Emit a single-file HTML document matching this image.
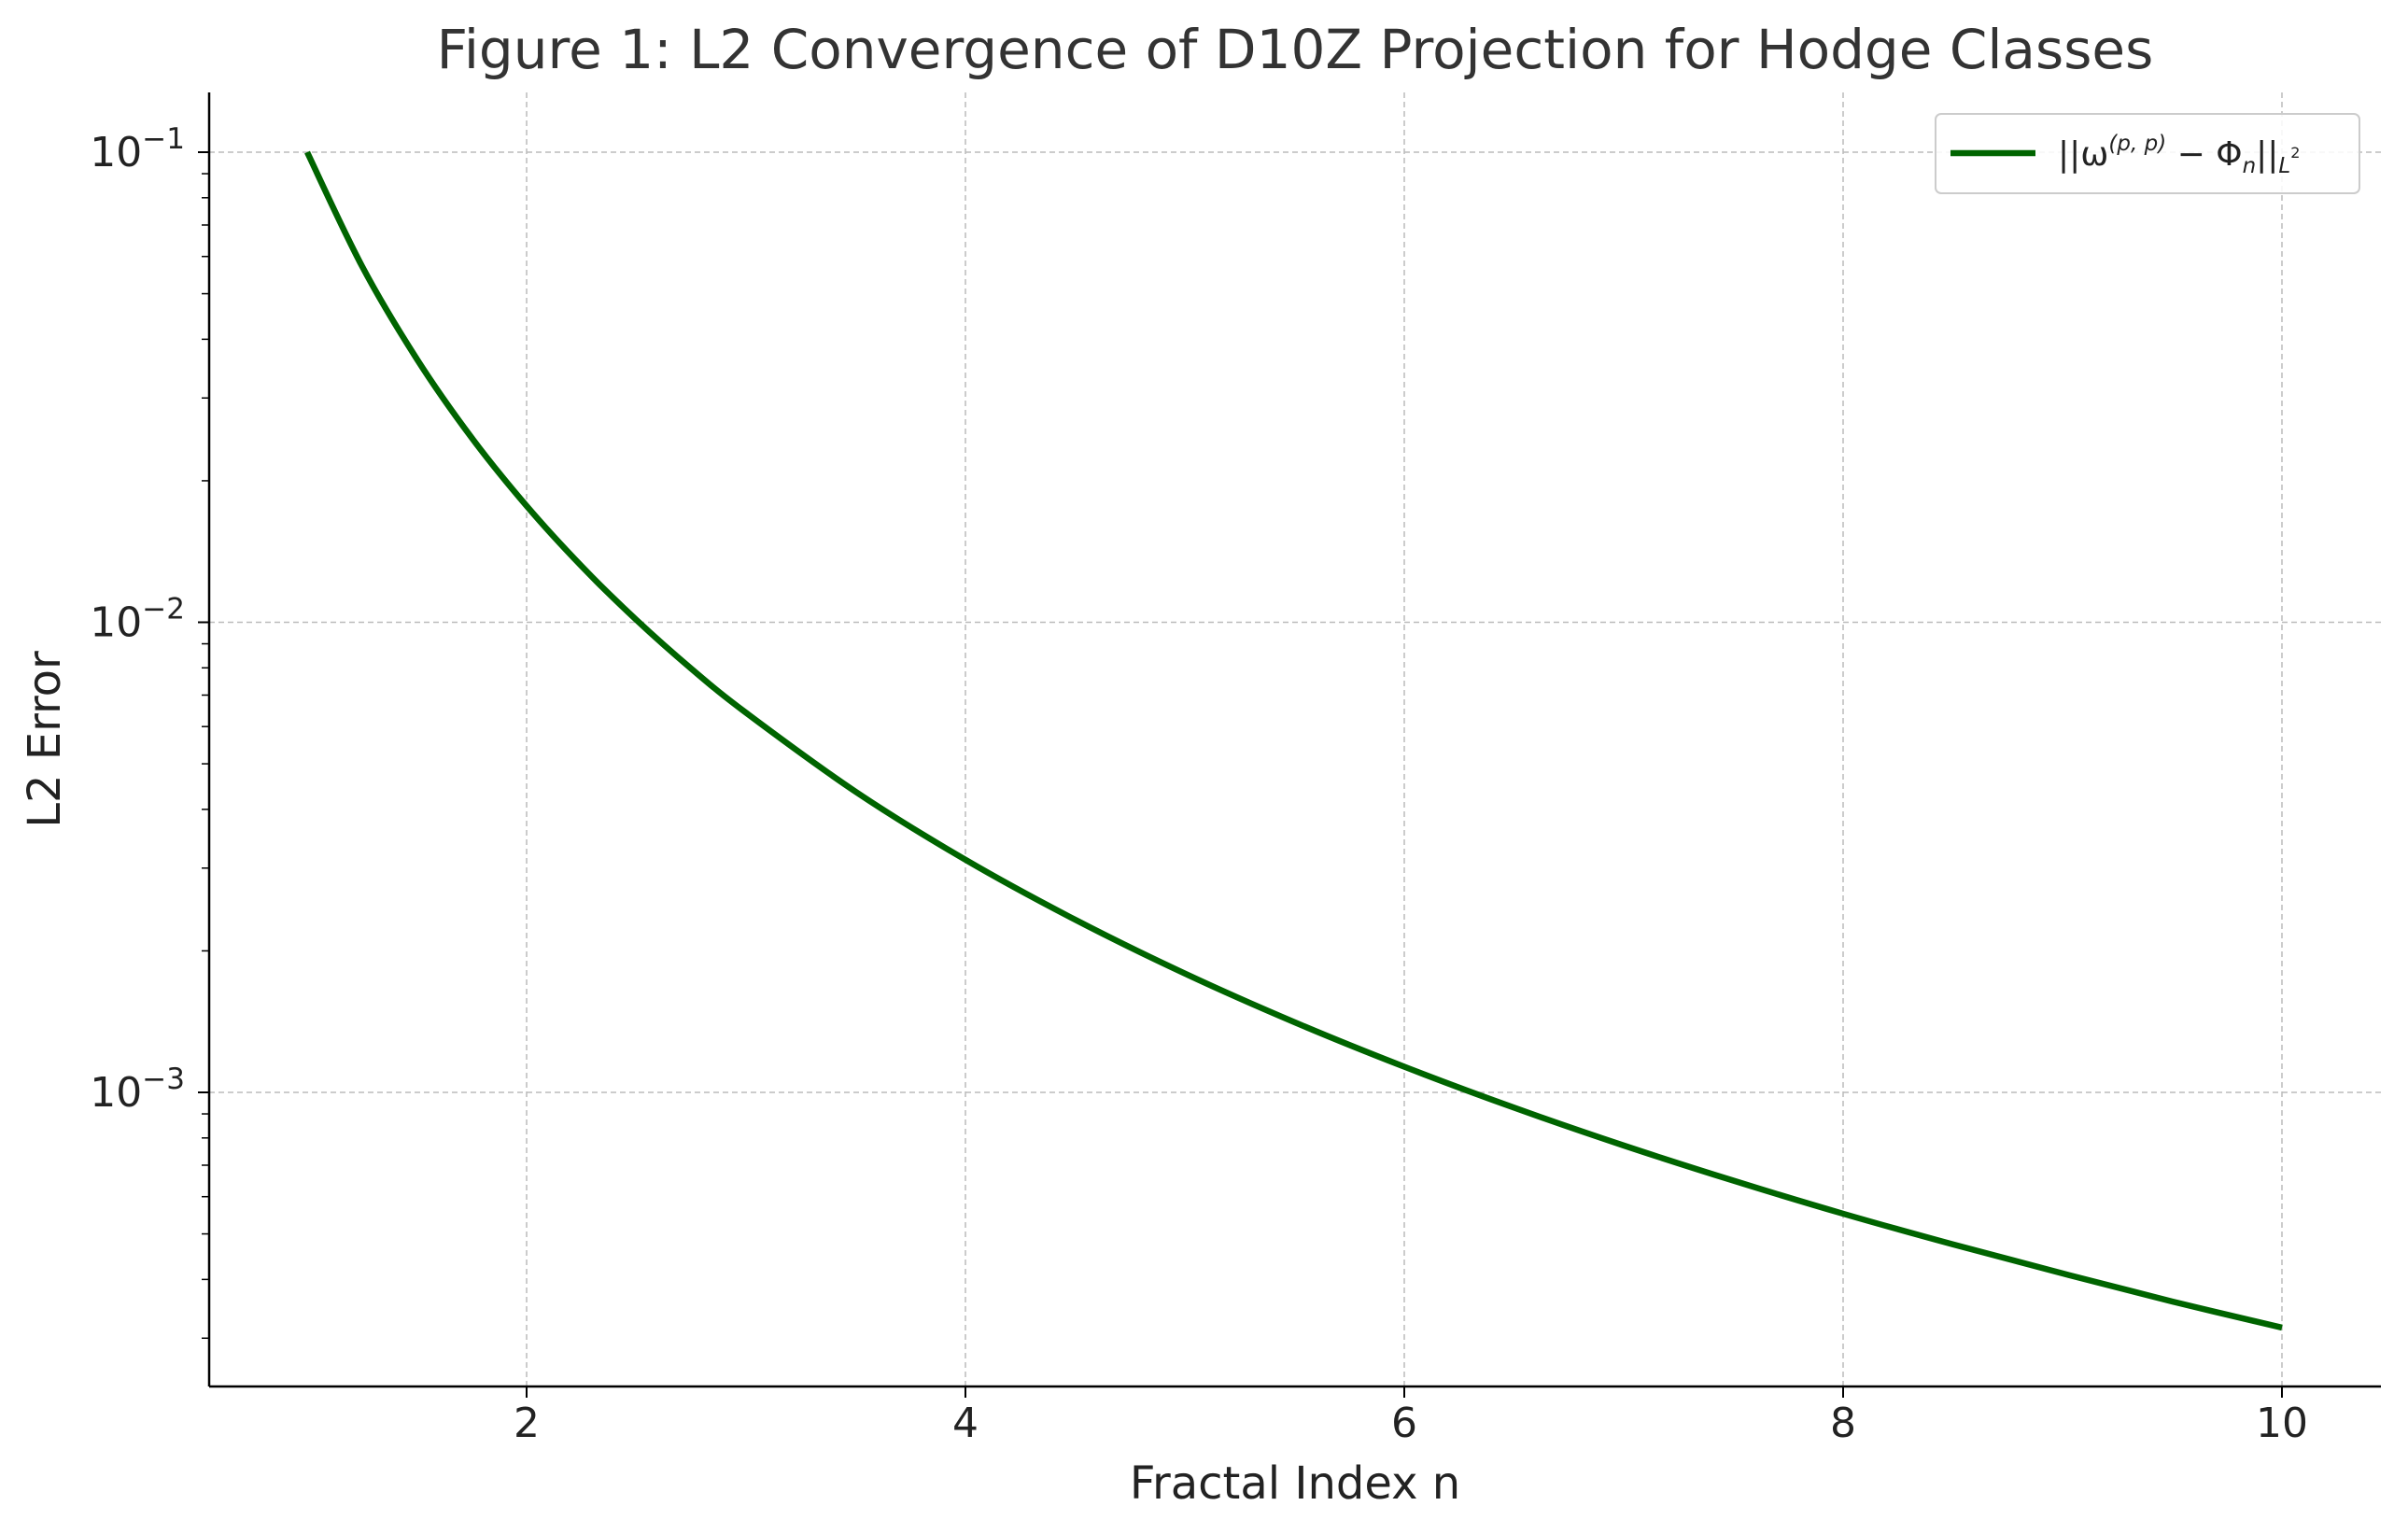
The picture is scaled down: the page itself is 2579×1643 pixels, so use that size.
<!DOCTYPE html>
<html><head><meta charset="utf-8"><style>
html,body{margin:0;padding:0;background:#fff}
svg{display:block;font-family:"DejaVu Sans","Liberation Sans",sans-serif}
</style></head><body>
<svg id="chart" width="2579" height="1643" viewBox="0 0 2579 1643" xmlns="http://www.w3.org/2000/svg">
<rect width="2579" height="1643" fill="#fff"/>
<g id="grid"></g>
<g id="ticks"></g>
<path id="series" fill="none" stroke="#006400" stroke-width="6.5" stroke-linejoin="round"/>
<line x1="224" y1="99" x2="224" y2="1485" stroke="#000" stroke-width="2.5"/>
<line x1="224" y1="1485" x2="2550" y2="1485" stroke="#000" stroke-width="2.5"/>
<text x="1387" y="73" font-size="58" fill="#333" text-anchor="middle">Figure 1: L2 Convergence of D10Z Projection for Hodge Classes</text>
<text x="1387" y="1605" font-size="48" fill="#222" text-anchor="middle">Fractal Index n</text>
<text transform="translate(64,792) rotate(-90)" font-size="48" fill="#222" text-anchor="middle">L2 Error</text>
<g>
<rect x="2073" y="122" width="454" height="85" rx="6" fill="#fff" fill-opacity="0.85" stroke="#ccc" stroke-width="2"/>
<line x1="2089" y1="164" x2="2180" y2="164" stroke="#006400" stroke-width="6.5"/>
<text x="2204" y="177" font-size="36" fill="#222">||ω<tspan dy="-16" font-size="23" font-style="italic">(p, p)</tspan><tspan dy="16"> − Φ</tspan><tspan dy="8" font-size="23" font-style="italic">n</tspan><tspan dy="-8">||</tspan><tspan dy="8" font-size="23" font-style="italic">L</tspan><tspan dy="-16" font-size="16">2</tspan></text>
</g>
</svg>
<script>
const nValues=[1,1.25,1.5,1.75,2,2.25,2.5,2.75,3,3.5,4,4.5,5,5.5,6,6.5,7,7.5,8,8.5,9,9.5,10];
const errValues=[0.1,0.0572,0.0363,0.02468,0.01768,0.01317,0.01012,0.00797,0.00642,0.00436,0.003125,0.00233,0.00179,0.00141,0.001134,0.000928,0.000771,0.000649,0.000552,0.000475,0.000412,0.000359,0.000316];
const xTicks=[2,4,6,8,10];
const yExps=[-1,-2,-3];
const NS="http://www.w3.org/2000/svg";
const xs=n=>329+(n-1)*235;
const ys=v=>163+(-1-Math.log10(v))*503.5;
const grid=document.getElementById('grid'),ticks=document.getElementById('ticks');
function mk(tag,attrs,parent){const e=document.createElementNS(NS,tag);for(const k in attrs)e.setAttribute(k,attrs[k]);parent.appendChild(e);return e;}
xTicks.forEach(t=>{
 const g=mk('line',{x1:xs(t),x2:xs(t),y1:99,y2:1485,stroke:'#bbb','stroke-width':1.5,'stroke-dasharray':'6,4'},grid);
 
 
 const tk=mk('line',{x1:xs(t),x2:xs(t),y1:1485,y2:1497,stroke:'#000','stroke-width':2},ticks);
 
 
 const tl=mk('text',{x:xs(t),y:1539,'font-size':44,fill:'#222','text-anchor':'middle'},ticks);
 tl.textContent=t;
 
 
});
yExps.forEach(e=>{
 const y=ys(Math.pow(10,e));
 const g=mk('line',{x1:224,x2:2550,y1:y,y2:y,stroke:'#bbb','stroke-width':1.5,'stroke-dasharray':'6,4'},grid);
 
 
 const tk=mk('line',{x1:212,x2:224,y1:y,y2:y,stroke:'#000','stroke-width':2},ticks);
 
 
 const tl=mk('text',{x:198,y:y+15,'font-size':44,fill:'#222','text-anchor':'end'},ticks);
 tl.innerHTML='10<tspan dy="-19" font-size="31">−'+(-e)+'</tspan>';
 
 
});
[-2,-3,-4].forEach(e=>{for(let m=2;m<=9;m++){const v=m*Math.pow(10,e);const y=ys(v);if(y<99||y>1485)continue;
 const tk=mk('line',{x1:216,x2:224,y1:y,y2:y,stroke:'#000','stroke-width':1.5},ticks);
 
 }});
const P=nValues.map((n,i)=>[xs(n),ys(errValues[i])]);
let d='M'+P[0][0]+','+P[0][1];
for(let i=0;i<P.length-1;i++){const p0=P[Math.max(i-1,0)],p1=P[i],p2=P[i+1],p3=P[Math.min(i+2,P.length-1)];
 d+=' C'+(p1[0]+(p2[0]-p0[0])/6)+','+(p1[1]+(p2[1]-p0[1])/6)+' '+(p2[0]-(p3[0]-p1[0])/6)+','+(p2[1]-(p3[1]-p1[1])/6)+' '+p2[0]+','+p2[1];}
document.getElementById('series').setAttribute('d',d);
</script>
</body></html>
